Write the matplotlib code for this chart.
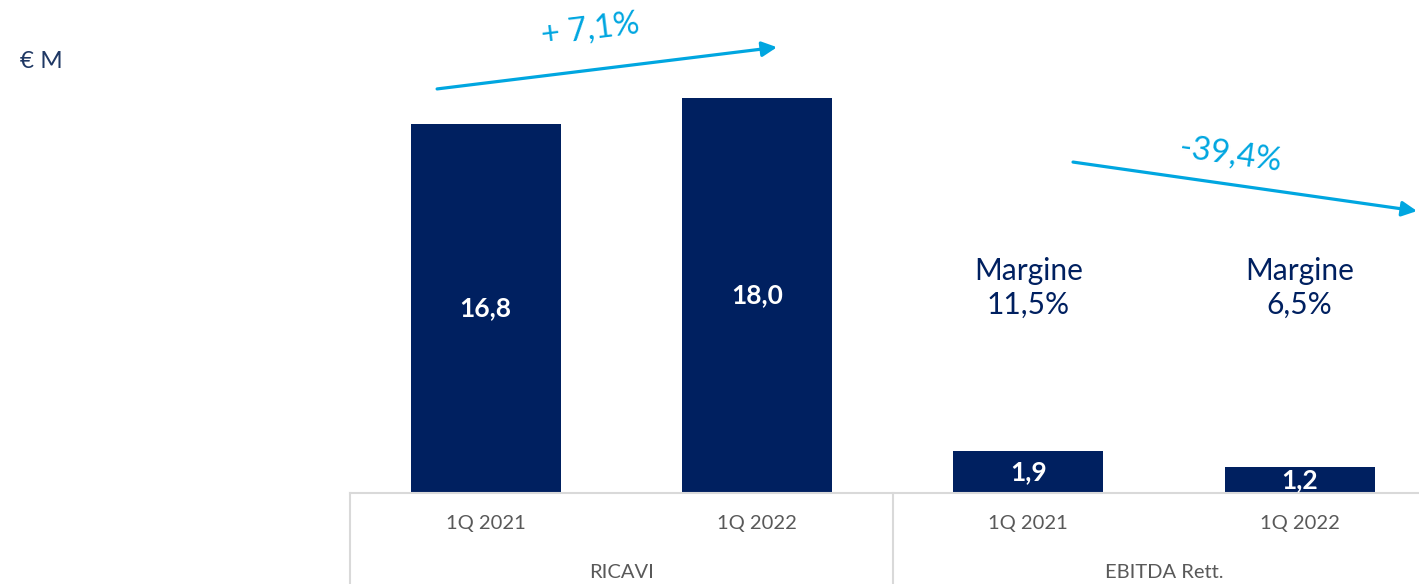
import matplotlib
matplotlib.use("Agg")
import matplotlib.pyplot as plt
from matplotlib.lines import Line2D
from matplotlib.transforms import blended_transform_factory

# data
periods = ["1Q 2021", "1Q 2022", "1Q 2021", "1Q 2022"]
groups = ["RICAVI", "EBITDA Rett."]
values = [16.8, 18.0, 1.9, 1.2]
value_labels = ["16,8", "18,0", "1,9", "1,2"]
margins = ["Margine\n11,5%", "Margine\n6,5%"]
changes = ["+ 7,1%", "-39,4%"]

NAVY = "#002060"
BLUE = "#00A6E0"
GREY = "#595959"
LINE = "#D9D9D9"

plt.rcParams["font.family"] = ["Lato", "DejaVu Sans"]

W, H = 1419, 584
fig = plt.figure(figsize=(W / 100, H / 100), dpi=100)
# axes spans beyond the right edge (chart is cropped in the original)
slot = 271.3
ax = fig.add_axes([350 / W, 1 - 493 / H, 4 * slot / W, 493 / H])
ax.set_xlim(-0.5, 3.5)
ax.set_ylim(0, 493 / 21.96)
ax.axis("off")

x = list(range(len(values)))
bars = ax.bar(x, values, width=0.553, color=NAVY, zorder=2)
for b, lab in zip(bars, value_labels):
    ax.text(b.get_x() + b.get_width() / 2, b.get_height() / 2, lab,
            ha="center", va="center", color="white", fontsize=19, fontweight="bold")

# category box under the axis
trans = blended_transform_factory(ax.transData, ax.transAxes)
ax.add_line(Line2D([-0.5, 3.5], [0, 0], transform=trans, color=LINE, lw=1.5, clip_on=False))
for xb in [-0.5, 1.5]:
    ax.add_line(Line2D([xb, xb], [0, -0.2], transform=trans, color=LINE, lw=1.5, clip_on=False))
for xi, p in zip(x, periods):
    ax.text(xi, -30 / 493, p, transform=trans, ha="center", va="center",
            color=GREY, fontsize=14.5)
for gi, g in enumerate(groups):
    ax.text(gi * 2 + 0.5, -79 / 493, g, transform=trans, ha="center", va="center",
            color=GREY, fontsize=14.5)

# margin labels above the EBITDA bars
for xi, m in zip([2, 3], margins):
    ax.text(xi, 9.33, m, ha="center", va="center", color=NAVY, fontsize=21.5,
            linespacing=1.25)

# growth arrows
arrow_kw = dict(arrowstyle="-|>,head_length=0.9,head_width=0.45", color=BLUE, lw=2.3,
                shrinkA=0, shrinkB=0)
ax.annotate("", xy=(1.074, 20.3), xytext=(-0.179, 18.4), arrowprops=arrow_kw,
            annotation_clip=False)
ax.annotate("", xy=(3.433, 12.84), xytext=(2.165, 15.07), arrowprops=arrow_kw,
            annotation_clip=False)
ax.text(0.385, 21.08, changes[0], ha="center", va="center", color=BLUE, fontsize=23.5,
        rotation=7, clip_on=False)
ax.text(2.744, 15.39, changes[1], ha="center", va="center", color=BLUE, fontsize=23.5,
        rotation=-8, clip_on=False)

fig.text(20 / W, 1 - 62 / H, "€ M", ha="left", va="center", color="#1F3864", fontsize=17.5)

fig.savefig("out.png", dpi=100)
